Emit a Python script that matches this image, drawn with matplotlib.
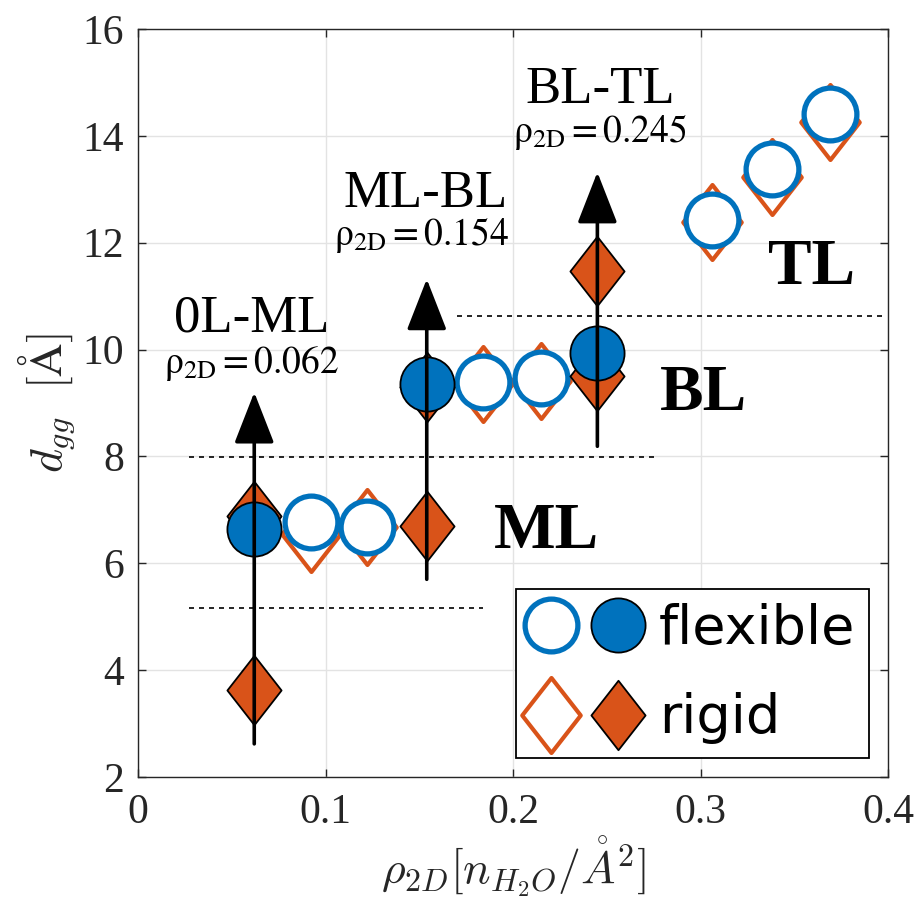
import matplotlib
matplotlib.use("Agg")
import matplotlib.pyplot as plt
from matplotlib.path import Path
from matplotlib.lines import Line2D
from matplotlib.legend_handler import HandlerTuple

# ---------------- data ----------------
# flexible (filled circles) at transition densities
flex_fill_x = [0.062, 0.154, 0.245]
flex_fill_y = [6.65, 9.35, 9.93]
# flexible (open circles)
flex_open_x = [0.092, 0.122, 0.184, 0.215, 0.306, 0.338, 0.369]
flex_open_y = [6.77, 6.68, 9.39, 9.47, 12.42, 13.38, 14.40]
# rigid (filled diamonds)
rigid_fill_x = [0.062, 0.062, 0.154, 0.154, 0.245, 0.245]
rigid_fill_y = [6.88, 3.63, 6.70, 9.30, 11.47, 9.50]
# rigid (open diamonds)
rigid_open_x = [0.092, 0.122, 0.184, 0.215, 0.306, 0.338, 0.369]
rigid_open_y = [6.55, 6.68, 9.35, 9.42, 12.39, 13.23, 14.26]

# transition arrows
arrow_x = [0.062, 0.154, 0.245]
arrow_y0 = [2.62, 5.70, 8.19]
arrow_y1 = [9.20, 11.32, 13.32]
trans_names = ["0L-ML", "ML-BL", "BL-TL"]
trans_name_x = [0.0608, 0.1536, 0.2464]
trans_name_y = [10.33, 12.67, 14.61]
trans_rho = ["0.062", "0.154", "0.245"]
trans_rho_x = [0.0608, 0.1510, 0.2464]
trans_rho_y = [9.56, 11.96, 13.88]

# dashed layer boundaries
bound_y = [5.16, 7.99, 10.63]
bound_x0 = [0.027, 0.027, 0.170]
bound_x1 = [0.184, 0.278, 0.398]

layer_names = ["ML", "BL", "TL"]
layer_x = [0.218, 0.3017, 0.359]
layer_y = [6.28, 8.86, 11.23]

xticks = [0, 0.1, 0.2, 0.3, 0.4]
xticklabels = ["0", "0.1", "0.2", "0.3", "0.4"]
yticks = [2, 4, 6, 8, 10, 12, 14, 16]

BLUE = "#0072BD"
ORANGE = "#D95319"

plt.rcParams['font.family'] = ['Liberation Serif', 'DejaVu Serif']
plt.rcParams['mathtext.fontset'] = 'cm'

fig = plt.figure(figsize=(9.19, 9.0), dpi=100)
ax = fig.add_axes([138/919, 1-777/900, (888-138)/919, (777-29)/900])

diamond = Path([(0, 1), (0.78, 0), (0, -1), (-0.78, 0), (0, 1)],
               [Path.MOVETO, Path.LINETO, Path.LINETO, Path.LINETO, Path.CLOSEPOLY])

ax.plot(rigid_open_x, rigid_open_y, ls='none', marker=diamond, ms=54,
        mfc='white', mec=ORANGE, mew=3.0, zorder=3)
ax.plot(flex_open_x, flex_open_y, ls='none', marker='o', ms=38,
        mfc='white', mec=BLUE, mew=3.8, zorder=3.2)
ax.plot(rigid_fill_x, rigid_fill_y, ls='none', marker=diamond, ms=50,
        mfc=ORANGE, mec='black', mew=1.3, zorder=3.4)
ax.plot(flex_fill_x, flex_fill_y, ls='none', marker='o', ms=39,
        mfc=BLUE, mec='black', mew=1.3, zorder=3.6)

for x, y0, y1 in zip(arrow_x, arrow_y0, arrow_y1):
    ax.annotate('', xy=(x, y1), xytext=(x, y0),
                arrowprops=dict(arrowstyle='-|>,head_length=0.64,head_width=0.25',
                                mutation_scale=50, lw=2.6, color='black',
                                shrinkA=0, shrinkB=0),
                zorder=5)

for y, x0, x1 in zip(bound_y, bound_x0, bound_x1):
    ax.plot([x0, x1], [y, y], ls=(0, (3, 3)), color='black', lw=1.2, zorder=2)

for x, y, name in zip(trans_name_x, trans_name_y, trans_names):
    ax.text(x, y, name, ha='center', va='baseline', fontsize=38)
for x, y, rho in zip(trans_rho_x, trans_rho_y, trans_rho):
    ax.text(x, y, r'$\mathrm{\rho_{2D} = ' + rho + '}$',
            ha='center', va='baseline', fontsize=27, math_fontfamily='stix')

for x, y, name in zip(layer_x, layer_y, layer_names):
    ax.text(x, y, name, ha='center', va='baseline', fontsize=47, fontweight='bold')

ax.set_xlim(0, 0.4)
ax.set_ylim(2, 16)
ax.set_xticks(xticks)
ax.set_xticklabels(xticklabels)
ax.set_yticks(yticks)
ax.tick_params(direction='in', length=6, width=1, labelsize=30, top=True, right=True,
               colors='#262626', labelcolor='#262626')
ax.tick_params(axis='x', pad=12)
ax.tick_params(axis='y', pad=10)
ax.grid(True, color='#E3E3E3', lw=1, zorder=0)
ax.set_axisbelow(True)
for s in ax.spines.values():
    s.set_color('#262626')
    s.set_linewidth(1)

ax.set_xlabel(r'$\rho_{2D}[n_{H_2O}/\mathring{A}^2]$', fontsize=33, color='#262626',
              va='bottom')
ax.xaxis.set_label_coords(0.5, -(899 - 777) / 748)
ax.set_ylabel(r'$d_{gg}\ \ [\mathrm{\AA}]$', fontsize=33, color='#262626', labelpad=4)

h1 = (Line2D([], [], ls='none', marker='o', ms=38, mfc='white', mec=BLUE, mew=3.8),
      Line2D([], [], ls='none', marker='o', ms=39, mfc=BLUE, mec='black', mew=1.3))
h2 = (Line2D([], [], ls='none', marker=diamond, ms=54, mfc='white', mec=ORANGE, mew=3.0),
      Line2D([], [], ls='none', marker=diamond, ms=50, mfc=ORANGE, mec='black', mew=1.3))
leg = ax.legend([h1, h2], ['flexible', 'rigid'],
                handler_map={tuple: HandlerTuple(ndivide=None, pad=0.44)},
                loc='lower right', prop={'family': 'DejaVu Sans', 'size': 39},
                handlelength=2.04, handletextpad=0.36, borderpad=0.25, labelspacing=0.7,
                borderaxespad=0.35, fancybox=False, framealpha=1, edgecolor='black')
leg.get_frame().set_linewidth(1.3)
leg.set_zorder(10)

fig.savefig('out.png', dpi=100)
